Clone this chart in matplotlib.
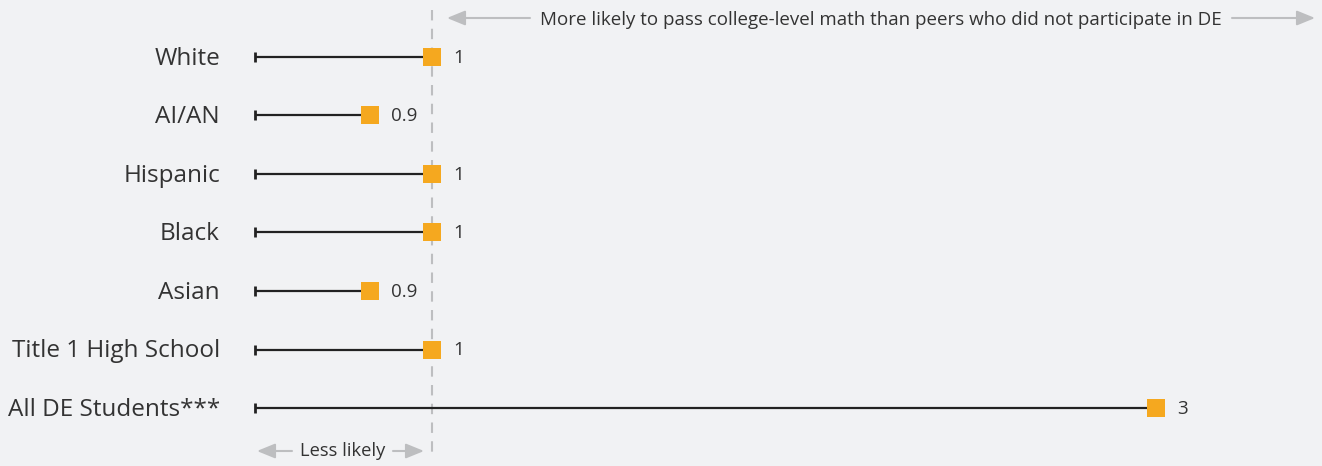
import matplotlib
matplotlib.use("Agg")
import matplotlib.pyplot as plt
import numpy as np

categories = ["White", "AI/AN", "Hispanic", "Black", "Asian", "Title 1 High School", "All DE Students***"]
values = [1.0, 0.91, 1.0, 1.0, 0.91, 1.0, 3.0]
value_labels = ["1", "0.9", "1", "1", "0.9", "1", "3"]
line_start = 0.765
ref_value = 1.0
top_note = "More likely to pass college-level math than peers who did not participate in DE"
bottom_note = "Less likely"

BG = "#F1F2F4"
ORANGE = "#F5A81F"
DARK = "#222222"
GRAY = "#BDBEC0"
TXT = "#333333"

plt.rcParams['font.family'] = ['Open Sans', 'DejaVu Sans']

W, H = 1322, 466
fig = plt.figure(figsize=(W / 100, H / 100), dpi=100, facecolor=BG)
ax = fig.add_axes([0, 0, 1, 1], facecolor=BG)
ax.set_xscale("log")

b = (1156 - 432) / np.log10(3)
xmin = 10 ** (-432 / b)
xmax = 10 ** ((W - 432) / b)
ax.set_xlim(xmin, xmax)
step = 58.5
ax.set_ylim((H - 57) / step, -57 / step)

ys = np.arange(len(categories))
for y, v, lab in zip(ys, values, value_labels):
    ax.plot([line_start, v], [y, y], color=DARK, lw=1.6, solid_capstyle="butt", zorder=2)
    ax.plot([line_start], [y], marker="|", color=DARK, markersize=7, markeredgewidth=2, zorder=3)
    ax.plot([v], [y], marker="s", color=ORANGE, markersize=13, markeredgewidth=0, zorder=4)
    ax.annotate(lab, xy=(v, y), xytext=(15, -0.5), textcoords="offset points",
                ha="left", va="center", fontsize=13.5, color=TXT)

for y, c in zip(ys, categories):
    ax.annotate(c, xy=(xmin, y), xytext=(220 * 0.72, -1.2), textcoords="offset points",
                ha="right", va="center", fontsize=17.5, color=TXT)

ax.plot([ref_value, ref_value], [-0.8, 6.8], color=GRAY, lw=1.5, ls=(0, (5, 4)), zorder=1)

def fx(px):
    return px / W

def fy(py):
    return 1 - py / H

arrow_kw = dict(arrowstyle="-|>,head_length=1.1,head_width=0.45", color=GRAY, lw=1.5,
                shrinkA=0, shrinkB=0)
fig.text(fx(881), fy(20), top_note, ha="center", va="center", fontsize=13.5, color=TXT)
ax.annotate("", xy=(fx(447), fy(18)), xytext=(fx(530), fy(18)), xycoords="figure fraction",
            textcoords="figure fraction", arrowprops=arrow_kw)
ax.annotate("", xy=(fx(1315), fy(18)), xytext=(fx(1232), fy(18)), xycoords="figure fraction",
            textcoords="figure fraction", arrowprops=arrow_kw)
fig.text(fx(343), fy(451), bottom_note, ha="center", va="center", fontsize=13.2, color=TXT)
ax.annotate("", xy=(fx(257), fy(451)), xytext=(fx(292), fy(451)), xycoords="figure fraction",
            textcoords="figure fraction", arrowprops=arrow_kw)
ax.annotate("", xy=(fx(424), fy(451)), xytext=(fx(393), fy(451)), xycoords="figure fraction",
            textcoords="figure fraction", arrowprops=arrow_kw)

ax.axis("off")
fig.savefig("out.png", dpi=100, facecolor=BG)
